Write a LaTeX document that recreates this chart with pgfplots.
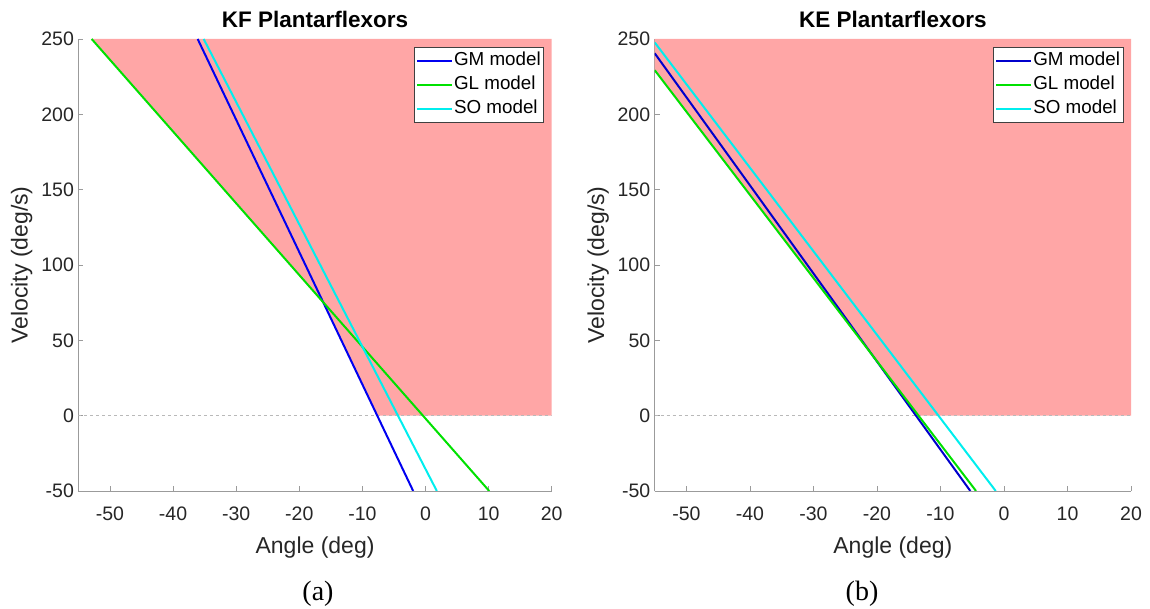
\documentclass[border=0pt]{standalone}
\usepackage{pgfplots}
\pgfplotsset{compat=1.18}
\usepackage{fontspec}
\setmainfont{Liberation Sans}
\newfontfamily\capfont{Liberation Serif}
\definecolor{pinkc}{RGB}{255,166,166}
\definecolor{axgray}{RGB}{155,155,155}
\definecolor{txtgray}{RGB}{38,38,38}
\definecolor{mblue}{RGB}{0,0,240}
\definecolor{mgreen}{RGB}{0,225,0}
\definecolor{mcyan}{RGB}{0,238,238}
\pgfplotsset{
  mystyle/.style={
    scale only axis, height=452bp,
    xmin=-55, xmax=20, ymin=-50, ymax=250,
    xtick={-50,-40,...,20}, ytick={-50,0,...,250},
    axis x line=bottom, axis y line=left,
    axis line style={axgray, line width=0.9pt, -},
    tick style={axgray, line width=0.9pt},
    tick align=inside, major tick length=5bp,
    /pgf/number format/assume math mode=true,
    ticklabel style={font=\fontsize{19.5bp}{21bp}\selectfont, text=txtgray},
    xticklabel style={yshift=-12bp},
    yticklabel style={xshift=-1bp},
    label style={font=\fontsize{23bp}{25bp}\selectfont, text=txtgray},
    xlabel style={yshift=-10bp},
    ylabel style={yshift=2bp},
    title style={font=\fontsize{22.5bp}{24bp}\selectfont\bfseries, yshift=2bp},
    xlabel={Angle (deg)}, ylabel={Velocity (deg/s)},
    legend style={at={(rel axis cs:0.984,0.982)}, anchor=north east,
      font=\fontsize{18.8bp}{20bp}\selectfont, draw=black!75, line width=0.7pt, fill=white,
      inner xsep=2bp, inner ysep=3.5bp, row sep=4bp,
      nodes={text height=14bp, text depth=4bp, inner sep=1bp}},
    legend cell align=left,
    legend image code/.code={\draw[#1, line width=2bp] (0bp,0bp) -- (35bp,0bp);},
    clip=true,
  }
}
\begin{document}
\begin{tikzpicture}[x=1bp,y=1bp]
\useasboundingbox (0,0) rectangle (1150,609);
\begin{axis}[mystyle, width=473.3bp, at={(78.4bp,118bp)}, anchor=south west, title={KF Plantarflexors}]
\addplot[fill=pinkc, draw=none, forget plot] coordinates {(-52.9,250) (-16.05,74) (-7.7,0) (20,0) (20,250)} -- cycle;
\addplot[axgray!70, dashed, line width=0.8pt, forget plot] coordinates {(-55,0) (20,0)};
\addplot[mblue, line width=2bp] coordinates {(-36.1,250) (-1.95,-50)};
\addplot[mgreen, line width=2bp] coordinates {(-52.9,250) (10.1,-50)};
\addplot[mcyan, line width=2bp] coordinates {(-35.15,250) (1.8,-50)};
\legend{GM model, GL model, SO model}
\end{axis}
\begin{axis}[mystyle, width=476.3bp, at={(654.7bp,118bp)}, anchor=south west, title={KE Plantarflexors}]
\addplot[fill=pinkc, draw=none, forget plot] coordinates {(-55,250) (-55,229.3) (-20.5,39) (-13.85,0) (20,0) (20,250)} -- cycle;
\addplot[axgray!70, dashed, line width=0.8pt, forget plot] coordinates {(-55,0) (20,0)};
\addplot[mblue!85!black, line width=2bp] coordinates {(-55,240.5) (-5.3,-50)};
\addplot[mgreen, line width=2bp] coordinates {(-55,229.3) (-4.4,-50)};
\addplot[mcyan, line width=2bp] coordinates {(-55,247.7) (-1.3,-50)};
\legend{GM model, GL model, SO model}
\end{axis}
\node[font=\capfont\fontsize{28bp}{30bp}\selectfont] at (318,15) {(a)};
\node[font=\capfont\fontsize{28bp}{30bp}\selectfont] at (862,15) {(b)};
\end{tikzpicture}
\end{document}
